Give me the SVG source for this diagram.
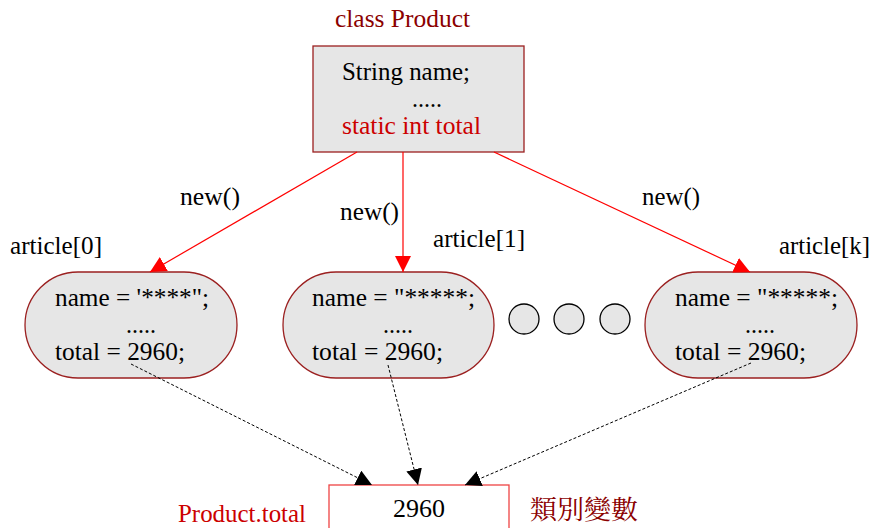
<svg xmlns="http://www.w3.org/2000/svg" width="873" height="528" viewBox="0 0 873 528">
<style>
.dr{fill:#8b0000}
.r{fill:#cc0000}
.node{fill:#e6e6e6;stroke:#9b2020;stroke-width:1.3}
.circ{fill:#e6e6e6;stroke:#000;stroke-width:1.3}
.red{stroke:#ff0000;stroke-width:1.2;fill:none}
.dot{stroke:#000;stroke-width:1;stroke-dasharray:3,2;fill:none}
</style>
<defs>
<marker id="ra" viewBox="0 0 10 10" refX="10" refY="5" markerWidth="16" markerHeight="16" markerUnits="userSpaceOnUse" orient="auto"><path d="M0,0L10,5L0,10z" fill="#ff0000"/></marker>
<marker id="ba" viewBox="0 0 10 10" refX="10" refY="5" markerWidth="16" markerHeight="16" markerUnits="userSpaceOnUse" orient="auto"><path d="M0,0L10,5L0,10z" fill="#000"/></marker>
</defs>
<g font-family="Liberation Serif, DejaVu Serif, serif" font-size="26" fill="#000">
<g id="class-product">
<text x="335" y="27" class="dr" textLength="135" lengthAdjust="spacingAndGlyphs">class Product</text>
<rect x="313" y="46" width="211" height="106" class="node"/>
<text x="342" y="80" textLength="128" lengthAdjust="spacingAndGlyphs">String name;</text>
<text x="412" y="107" textLength="30" lengthAdjust="spacingAndGlyphs">.....</text>
<text x="342" y="134" class="r" textLength="139" lengthAdjust="spacingAndGlyphs">static int total</text>
</g>
<g id="article0">
<text x="10" y="254" textLength="92" lengthAdjust="spacingAndGlyphs">article[0]</text>
<rect x="25" y="272" width="212" height="106" rx="53" class="node"/>
<text x="55" y="306" textLength="154" lengthAdjust="spacingAndGlyphs">name = '****";</text>
<text x="126" y="333" textLength="30" lengthAdjust="spacingAndGlyphs">.....</text>
<text x="55" y="360" textLength="130" lengthAdjust="spacingAndGlyphs">total = 2960;</text>
</g>
<g id="article1">
<text x="433" y="247" textLength="92" lengthAdjust="spacingAndGlyphs">article[1]</text>
<rect x="283" y="272" width="211" height="106" rx="53" class="node"/>
<text x="312" y="306" textLength="163" lengthAdjust="spacingAndGlyphs">name = "*****;</text>
<text x="383" y="333" textLength="30" lengthAdjust="spacingAndGlyphs">.....</text>
<text x="312" y="360" textLength="131" lengthAdjust="spacingAndGlyphs">total = 2960;</text>
</g>
<g id="ellipsis">
<circle cx="524" cy="319" r="15" class="circ"/>
<circle cx="569" cy="319" r="15" class="circ"/>
<circle cx="615" cy="319" r="15" class="circ"/>
</g>
<g id="articlek">
<text x="779" y="254" textLength="91" lengthAdjust="spacingAndGlyphs">article[k]</text>
<rect x="645" y="272" width="212" height="106" rx="53" class="node"/>
<text x="675" y="306" textLength="163" lengthAdjust="spacingAndGlyphs">name = "*****;</text>
<text x="745" y="333" textLength="30" lengthAdjust="spacingAndGlyphs">.....</text>
<text x="675" y="360" textLength="131" lengthAdjust="spacingAndGlyphs">total = 2960;</text>
</g>
<g id="product-total">
<rect x="329" y="485" width="180" height="50" fill="#fff" stroke="#ee4444" stroke-width="1.3"/>
<text x="419" y="517" text-anchor="middle" textLength="52" lengthAdjust="spacingAndGlyphs">2960</text>
<text x="178" y="522" class="r" textLength="128" lengthAdjust="spacingAndGlyphs">Product.total</text>
<text x="530" y="519" class="dr" font-family="Noto Serif CJK TC, Noto Sans CJK TC, serif" textLength="108" lengthAdjust="spacingAndGlyphs">類別變數</text>
</g>
<g id="connectors">
<line x1="357" y1="152" x2="150" y2="272" class="red" marker-end="url(#ra)"/>
<line x1="403" y1="152" x2="403" y2="272" class="red" marker-end="url(#ra)"/>
<line x1="494" y1="152" x2="750" y2="272" class="red" marker-end="url(#ra)"/>
<text x="180" y="205" textLength="60" lengthAdjust="spacingAndGlyphs">new()</text>
<text x="340" y="220" textLength="59" lengthAdjust="spacingAndGlyphs">new()</text>
<text x="642" y="205" textLength="58" lengthAdjust="spacingAndGlyphs">new()</text>
<line x1="131" y1="364" x2="372" y2="485" class="dot" marker-end="url(#ba)"/>
<line x1="388" y1="365" x2="418" y2="485" class="dot" marker-end="url(#ba)"/>
<line x1="751" y1="363" x2="465" y2="485" class="dot" marker-end="url(#ba)"/>
</g>
</g>
</svg>
